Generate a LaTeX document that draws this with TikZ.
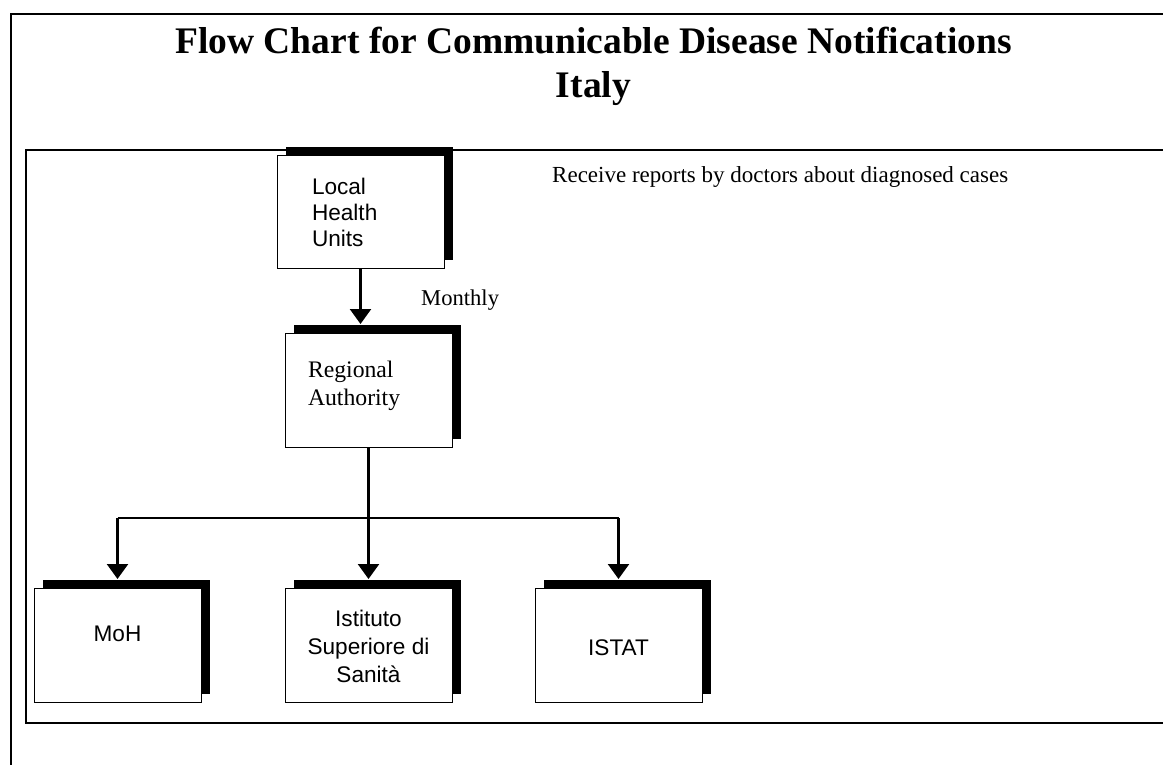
\documentclass[tikz,border=0pt]{standalone}
\usepackage{fontspec}
\setmainfont{Liberation Serif}
\newfontfamily\arialfont{Liberation Sans}
\usetikzlibrary{arrows.meta}
\usetikzlibrary{shadows}
\tikzset{%
    unit/.style={shape=rectangle,draw,fill=white,line width=1pt,minimum width=167pt,minimum height=114pt,inner ysep=0pt,drop shadow={shadow xshift=8.5pt,shadow yshift=8.5pt,opacity=1,fill=black}},
    sans unit/.style={unit,font=\arialfont\fontsize{22.6}{28}\selectfont},
    frame/.style={line width=2.2pt},
    link/.style={line width=2.4pt},
    flow/.style={->,link},
    caption/.style={inner sep=0pt,font=\fontsize{22.6}{26}\selectfont},
}

\begin{document}
\begin{tikzpicture}[x=1pt,y=-1pt,>={Triangle[width=21pt,length=15pt]}]
        \useasboundingbox (0,0) rectangle (1163,765);
        \clip (0,0) rectangle (1163,765);
        \draw[frame] (1170,14) -- (11,14) -- (11,775);
        \draw[frame] (1170,150) -- (26,150) -- (26,723) -- (1170,723);

        \node[align=center,inner sep=0pt,font=\bfseries\fontsize{37.5}{44}\selectfont] (title) at (593.5,66) {Flow Chart for Communicable Disease Notifications\\Italy};

        \node[sans unit,minimum height=112pt,inner xsep=35pt,text width=97pt,align=left,font=\arialfont\fontsize{22.6}{26}\selectfont] (lhu) at (360.5,212) {Local\\Health\\Units};
        \node[unit,inner xsep=23pt,text width=121pt,align=left,font=\fontsize{23.7}{28}\selectfont,text depth=42pt] (reg) at (368.5,390) {Regional\\Authority};

        \node[sans unit,text depth=22pt] (moh) at (117.5,645) {MoH};
        \node[sans unit,align=center,text height=76pt] (iss) at (368.5,645) {Istituto\\Superiore di\\Sanità};
        \node[sans unit,text height=22pt] (istat) at (618.5,645) {ISTAT};

        \node[caption,anchor=base west,font=\fontsize{23}{26}\selectfont] (recv) at (552,183) {Receive reports by doctors about diagnosed cases};
        \node[caption,anchor=base west] (monthly) at (421,305) {Monthly};

        \draw[flow] (lhu.south) -- ([yshift=8.5pt]lhu.south |- reg.north);

        \coordinate (bus) at (368.5,518);
        \draw[link] (reg.south) -- (bus);
        \draw[link] (moh.north |- bus) -- (istat.north |- bus);
        \foreach \n in {moh,iss,istat}
            \draw[flow] (\n.north |- bus) -- ([yshift=8.5pt]\n.north);
    \end{tikzpicture}
\end{document}
